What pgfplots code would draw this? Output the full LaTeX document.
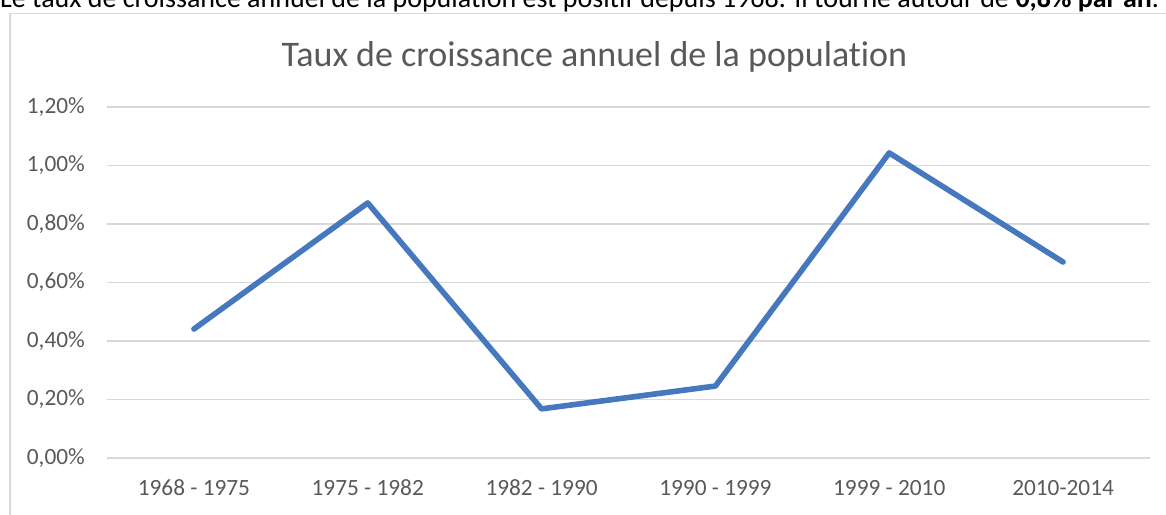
\documentclass[border=0pt]{standalone}
\usepackage{pgfplots}
\pgfplotsset{compat=1.18}
\usepackage{fontspec}
\setmainfont[Ligatures=NoCommon]{Carlito}
\definecolor{gridc}{HTML}{D9D9D9}
\definecolor{txtc}{HTML}{595959}
\definecolor{linec}{RGB}{70,120,190}
\begin{document}
\begin{tikzpicture}
\useasboundingbox (0,0) rectangle (1166pt,514pt);
\clip (0,0) rectangle (1166pt,514pt);
% sentence above the chart (cut at the top, as in the reference)
\node[anchor=base west, inner sep=0pt, font=\fontsize{28}{32}\selectfont] at (0pt,506pt)
  {Le taux de croissance annuel de la population est positif depuis 1968. Il tourne autour de \textbf{0,8\% par an}.};
% chart frame
\draw[gridc, line width=1.6pt] (10pt,500.5pt) rectangle (1175pt,-10pt);
% title
\node[anchor=base, inner sep=0pt, text=txtc, font=\fontsize{36}{40}\selectfont] at (594.5pt,447pt)
  {Taux de croissance annuel de la population};
\begin{axis}[
  at={(107pt,56pt)}, anchor=south west,
  scale only axis, width=1043pt, height=351pt,
  xmin=-0.5, xmax=5.5, ymin=0, ymax=1.2,
  xtick={0,1,2,3,4,5},
  xticklabels={1968 - 1975,1975 - 1982,1982 - 1990,1990 - 1999,1999 - 2010,2010-2014},
  ytick={0,0.2,0.4,0.6,0.8,1.0,1.2},
  yticklabels={{0,00\%},{0,20\%},{0,40\%},{0,60\%},{0,80\%},{1,00\%},{1,20\%}},
  ymajorgrids, grid style={gridc, line width=1.8pt},
  axis line style={draw=none},
  major tick length=0pt,
  tick label style={text=txtc, font=\fontsize{23.3}{26}\selectfont},
  yticklabel style={anchor=east, inner sep=0pt, xshift=-22pt},
  xticklabel style={anchor=base, inner sep=0pt, yshift=-37pt},
  clip=false,
]
\addplot[linec, line width=5.6pt, line join=round, line cap=round] coordinates {
  (0,0.441) (1,0.872) (2,0.168) (3,0.246) (4,1.043) (5,0.670)
};
\end{axis}
\end{tikzpicture}
\end{document}
